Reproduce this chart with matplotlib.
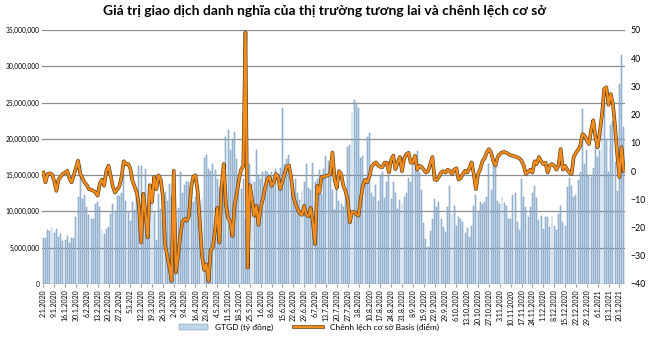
import numpy as np
import matplotlib.pyplot as plt
import matplotlib.patheffects as pe
from matplotlib.ticker import FuncFormatter

plt.rcParams['font.family'] = ['Lato', 'DejaVu Sans']

title = 'Giá trị giao dịch danh nghĩa của thị trường tương lai và chênh lệch cơ sở'

# weekly tick labels (every 5 sessions)
tick_labels = ['2.1.2020', '9.1.2020', '16.1.2020', '30.1.2020', '6.2.2020', '13.2.2020',
               '20.2.2020', '27.2.2020', '5.3.202', '12.3.2020', '19.3.2020', '26.3.2020',
               '2.4.2020', '9.4.2020', '16.4.2020', '23.4.2020', '4.5.2020', '11.5.2020',
               '18.5.2020', '25.5.2020', '1.6.2020', '8.6.2020', '15.6.2020', '22.6.2020',
               '29.6.2020', '6.7.2020', '13.7.2020', '20.7.2020', '27.7.2020', '3.8.2020',
               '10.8.2020', '17.8.2020', '24.8.2020', '31.8.2020', '8.9.2020', '15.9.2020',
               '22.9.2020', '29.9.2020', '6.10.2020', '13.10.2020', '20.10.2020', '27.10.2020',
               '3.11.2020', '10.11.2020', '17.11.2020', '24.11.2020', '1.12.2020', '8.12.2020',
               '15.12.2020', '22.12.2020', '29.12.2020', '6.1.2021', '13.1.2021', '20.1.2021']

# GTGD, read in millions
gtgd = [6.3, 6.3, 7.5, 7.3, 7.9, 7.0, 7.6, 6.5, 6.9, 5.9,
        6.1, 6.6, 5.7, 6.3, 6.4, 9.3, 12.0, 16.4, 11.7, 12.3,
        10.6, 9.5, 8.9, 8.9, 11.0, 11.3, 10.6, 7.4, 6.9, 7.6,
        7.8, 9.6, 11.0, 10.0, 12.1, 12.1, 12.5, 14.9, 11.4, 10.0,
        8.7, 11.3, 10.2, 12.0, 16.2, 16.2, 11.0, 15.8, 9.7, 9.8,
        12.6, 10.0, 6.1, 12.4, 10.3, 9.0, 12.7, 11.4, 13.8, 12.1,
        13.4, 8.3, 10.5, 15.4, 12.6, 13.6, 14.2, 14.1, 14.0, 11.3,
        12.0, 11.6, 11.6, 11.8, 17.3, 17.8, 15.9, 15.6, 16.6, 15.7,
        14.4, 13.4, 11.6, 15.0, 20.3, 21.2, 18.5, 19.8, 21.0, 17.2,
        13.8, 13.1, 14.4, 9.0, 11.0, 16.6, 14.3, 14.0, 18.5, 15.0,
        14.5, 15.4, 15.6, 15.5, 14.2, 15.5, 13.5, 15.9, 15.2, 16.0,
        24.2, 16.6, 17.2, 17.8, 13.0, 12.5, 14.5, 12.5, 11.6, 12.8,
        14.0, 16.6, 13.2, 13.0, 16.7, 14.0, 14.5, 15.7, 12.4, 15.9,
        17.7, 17.0, 15.2, 13.0, 10.2, 14.0, 11.5, 11.0, 10.6, 12.8,
        18.9, 19.2, 23.6, 25.3, 25.0, 24.2, 17.4, 17.6, 14.4, 20.3,
        20.8, 12.5, 12.0, 13.7, 11.4, 15.0, 15.5, 11.9, 14.0, 14.9,
        11.7, 14.1, 12.5, 10.3, 11.6, 11.0, 12.0, 12.6, 14.6, 14.1,
        16.5, 17.3, 18.3, 15.5, 12.9, 8.4, 6.2, 5.1, 7.3, 9.0,
        11.7, 10.6, 11.3, 9.0, 7.9, 7.1, 10.6, 13.5, 9.7, 10.8,
        8.0, 9.2, 9.0, 8.6, 7.0, 7.7, 6.5, 8.0, 10.7, 12.2,
        10.0, 11.3, 11.0, 11.3, 12.0, 16.5, 13.0, 16.9, 17.0, 11.5,
        11.0, 12.0, 11.2, 10.7, 9.0, 9.0, 12.2, 12.6, 8.5, 7.5,
        14.5, 12.0, 10.6, 9.3, 10.6, 12.5, 13.5, 11.8, 8.8, 9.4,
        7.6, 9.2, 9.3, 7.8, 9.4, 8.0, 7.5, 9.7, 10.7, 8.6,
        8.0, 13.3, 14.6, 13.5, 12.0, 12.3, 14.3, 15.5, 24.1, 16.5,
        18.5, 15.0, 14.8, 16.0, 19.0, 17.5, 18.4, 22.6, 25.3, 20.0,
        15.4, 21.9, 22.5, 16.8, 12.8, 27.6, 31.5, 21.7]

# basis (points)
basis = [-0.5, -4, -1, -0.8, -1.2, -3.5, -7, -3, -2, -1,
         -0.5, 0.1, -2.5, -4, -1.5, 1, 3.7, -1, -2.5, -4,
         -5, -6.4, -6.6, -7, -7.5, -8.7, -4.5, -3, -5.2, 0,
         1.9, -1.7, -5.5, -7.6, -6.5, -5.4, -2, 3.5, 2.5, 2.5,
         1, -3.4, -5.5, -7.5, -12.3, -25.3, -8, -15, -23.5, -5,
         -11, -2, -6.4, -1.5, -3, -9, -26, -30, -34, -38.9,
         0.1, -35.9, -30, -22.9, -18, -17, -17.6, -16, -6, -2,
         -1.5, -7, -18, -30, -35, -33, -39, -28, -27, -21,
         -13, -25.3, -5.4, 2.5, -12, -16.5, -18, -23, -12, -8,
         -3, 0.5, 1.9, 49.2, -34.2, -5, -10, -15.8, -12.3, -19,
         -13, -9.9, -6, -3, -2, -5.2, -4, -1, -2, -6.4,
         -3.5, -1, 1.5, 2, -2, -9, -11.5, -13.5, -15, -15.5,
         -12.3, -15.5, -16, -13, -18, -25.9, -5.2, -7.6, -2, -2,
         -1.7, -1.5, -1, 6.6, -3, -6, 0, -1, -5.2, -7,
         -9.9, -18.2, -14.5, -14.5, -15.3, -15.8, -10, -5.2, -3, -4,
         -2, 1.5, 2.5, 3.1, 2, 1.5, 1.4, 3, 3, -0.5,
         4, 5.5, 0.7, 3, 5, 0, 4.5, 6, 6.5, 3,
         3, 5.4, 0.5, 1.9, 1.5, 0.5, -0.5, 0, 2.5, 5,
         -3, -3.2, -2, -0.5, 0, -0.5, 0.5, 0, -1, 0.5,
         1, -3, -2.5, -1, 0.1, -0.5, 1, 3.1, -1, -6.4,
         -1, 0.7, 3.5, 4.5, 6.6, 7.8, 6.5, 3.5, 2, 5,
         6, 6.6, 6.8, 6.5, 6, 5.6, 5.4, 5.2, 4.9, 4.5,
         3.7, 1.9, -1, -0.3, 0.5, -0.5, 3.5, 2.5, 5, 3.5,
         2.5, 3, -0.5, 2, 2.5, 1.9, 0.5, 2, 7.8, 0.5,
         1.9, 0.5, -0.5, -1, 5, 6.5, 7.5, 9, 13.1, 12.5,
         11, 9.6, 14.5, 18, 12, 8.4, 14, 20, 29.1, 29.7,
         23.5, 27.3, 24, 16, 6, -2.1, 8.5, 0.1]

x = np.arange(len(gtgd))
vals = np.array(gtgd) * 1e6

fig = plt.figure(figsize=(6.5, 3.42), dpi=100)
ax = fig.add_axes([0.0646, 0.1696, 0.897, 0.7427])
ax2 = ax.twinx()

ax.set_axisbelow(True)
ax.yaxis.grid(True, color='#8c8c8c', linewidth=0.9)
bars = ax.bar(x, vals, width=0.45, color='#c3d4e6', edgecolor='#5582b2',
              linewidth=0.3, label='GTGD (tỷ đồng)')
ax.set_ylim(0, 35e6)
ax.set_yticks(np.arange(0, 35e6 + 1, 5e6))
ax.yaxis.set_major_formatter(FuncFormatter(lambda v, p: f'{int(v):,}'))
ax.set_xlim(-0.6, len(gtgd) - 0.4)
ax.set_xticks(x[::5])
ax.set_xticklabels(tick_labels, rotation=90, fontsize=5)
ax.tick_params(axis='y', labelsize=4.8, length=0, pad=2)
ax.tick_params(axis='x', length=2, pad=2, color='#999999')

line, = ax2.plot(x, basis, color='#f28c1c', linewidth=1.7, solid_joinstyle='round',
                 label='Chênh lệch cơ sở Basis (điểm)',
                 path_effects=[pe.Stroke(linewidth=2.6, foreground='#5a3a14'), pe.Normal()])
ax2.set_ylim(-40, 50)
ax2.set_yticks(np.arange(-40, 51, 10))
ax2.tick_params(axis='y', labelsize=6.3, length=0, pad=4)

for a in (ax, ax2):
    for s in a.spines.values():
        s.set_visible(False)

fig.suptitle(title, y=0.985, fontsize=10, fontweight='bold')

fig.legend(handles=[bars, line], loc='lower center', bbox_to_anchor=(0.475, 0.01),
           ncol=2, frameon=False, fontsize=6, handlelength=3.5, columnspacing=2.5)

fig.savefig('out.png', dpi=100)
